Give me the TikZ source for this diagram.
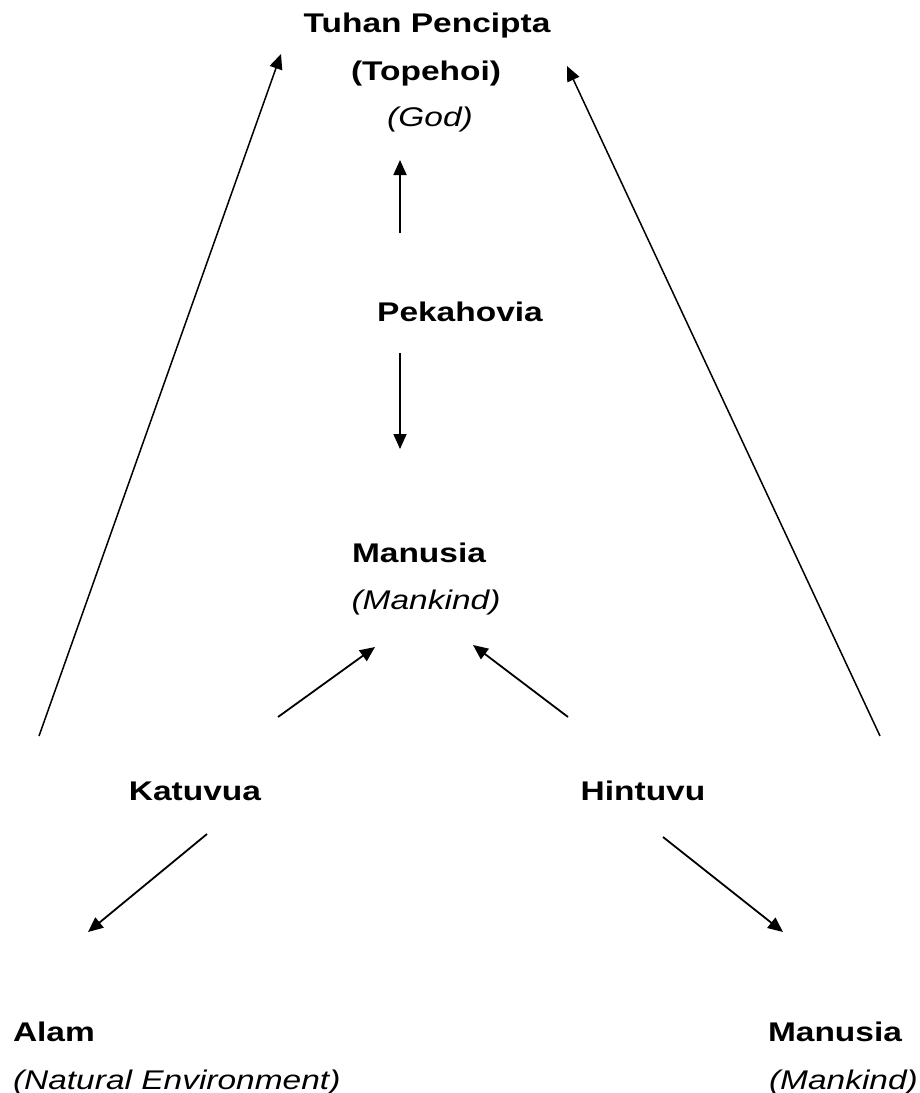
\documentclass[tikz,border=0pt]{standalone}
\usepackage{fontspec}
\setmainfont{Liberation Sans}[FakeStretch=1.24]
\usetikzlibrary{arrows.meta}
\begin{document}
\begin{tikzpicture}[x=1pt,y=-1pt,
  lbl/.style={inner sep=0pt,outer sep=0pt,anchor=base,font=\fontsize{27}{32}\selectfont\bfseries},
  gloss/.style={lbl,font=\fontsize{27}{32}\selectfont\itshape},
  link/.style={line width=1.8pt,-{Triangle[length=15pt,width=13pt]}},
  longlink/.style={link,line width=1.5pt}]
\useasboundingbox (0,0) rectangle (920,1093);

% labels
\node[lbl] (god) at (427,32) {Tuhan Pencipta};
\node[lbl] (topehoi) at (426,80) {(Topehoi)};
\node[gloss] (godgl) at (430,126) {(God)};
\node[lbl] (pek) at (460,321) {Pekahovia};
\node[lbl] (man) at (419,562) {Manusia};
\node[gloss] (mangl) at (426,609) {(Mankind)};
\node[lbl] (kat) at (195,800) {Katuvua};
\node[lbl] (hin) at (643,800) {Hintuvu};
\node[lbl,anchor=base west] (alam) at (13,1041) {Alam};
\node[gloss,anchor=base west] (alamgl) at (13,1089) {(Natural Environment)};
\node[lbl,anchor=base west] (man2) at (768,1041) {Manusia};
\node[gloss,anchor=base west] (man2gl) at (769,1089) {(Mankind)};

% connector end points
\coordinate (pekU) at (400,233);  \coordinate (godB) at (400,160);
\coordinate (pekD) at (400,353);  \coordinate (manT) at (400,449);
\coordinate (katU) at (278,717);  \coordinate (manL) at (375,647);
\coordinate (hinU) at (568,717);  \coordinate (manR) at (473,645);
\coordinate (katL) at (39,736);   \coordinate (godL) at (281,54);
\coordinate (hinR) at (880,736);  \coordinate (godR) at (567,66);
\coordinate (katD) at (207,834);  \coordinate (alamT) at (88,932);
\coordinate (hinD) at (663,837);  \coordinate (man2T) at (783,932);

% arrows
\draw[link] (pekU) -- (godB);
\draw[link] (pekD) -- (manT);
\draw[link] (katU) -- (manL);
\draw[link] (hinU) -- (manR);
\draw[longlink] (katL) -- (godL);
\draw[longlink] (hinR) -- (godR);
\draw[link] (katD) -- (alamT);
\draw[link] (hinD) -- (man2T);
\end{tikzpicture}
\end{document}
